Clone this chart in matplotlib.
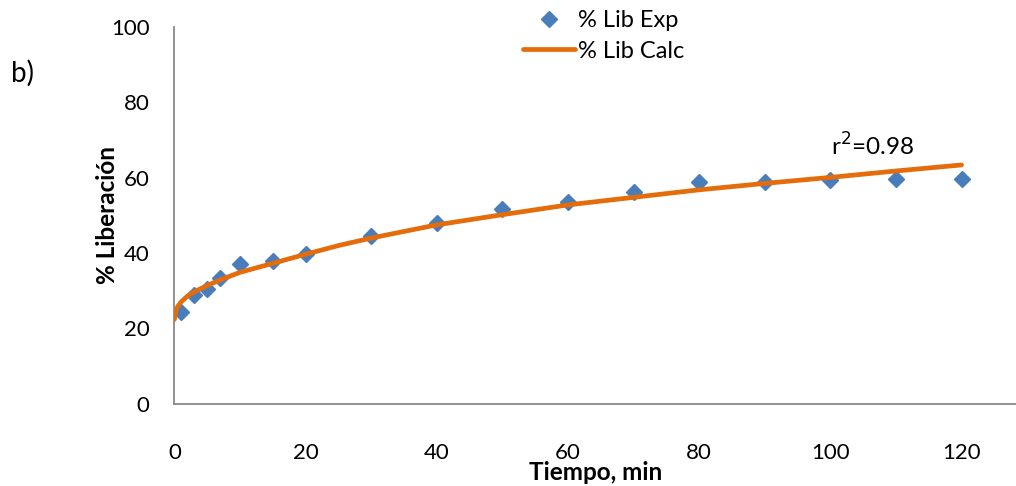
import matplotlib
matplotlib.use("Agg")
import matplotlib.pyplot as plt

# Experimental data
t_exp = [1, 3, 5, 7, 10, 15, 20, 30, 40, 50, 60, 70, 80, 90, 100, 110, 120]
lib_exp = [24.5, 28.9, 30.4, 33.5, 37.0, 38.0, 39.8, 44.6, 48.1, 51.8, 53.7, 56.3, 58.8, 58.9, 59.4, 59.8, 59.8]

# Calculated (fitted) curve
t_calc = [0, 0.25, 0.5, 1, 2, 3, 5, 7, 10, 15, 20, 25, 30, 40, 50, 60, 70, 80, 90, 100, 110, 120]
lib_calc = [22.4, 24.8, 25.8, 27.0, 28.6, 29.7, 31.4, 32.9, 34.9, 37.3, 39.7, 42.0, 44.0, 47.5, 50.2, 52.8, 54.8, 56.8, 58.5, 60.1, 61.8, 63.4]

x_ticks = [0, 20, 40, 60, 80, 100, 120]
y_ticks = [0, 20, 40, 60, 80, 100]

plt.rcParams['font.family'] = ['Lato', 'DejaVu Sans']

fig = plt.figure(figsize=(10.16, 4.86), dpi=100)
ax = fig.add_axes([0.1716, 0.169, 1.0 - 0.1716, 0.9444 - 0.169])

ax.plot(t_exp, lib_exp, linestyle='none', marker='D', markersize=8,
        color='#4A7EBB', label='% Lib Exp', zorder=2)
ax.plot(t_calc, lib_calc, color='#E46C0A', linewidth=3.4,
        solid_capstyle='round', solid_joinstyle='round', label='% Lib Calc', zorder=3)

ax.set_xlim(0, 128.3)
ax.set_ylim(0, 100)
ax.set_xticks(x_ticks)
ax.set_yticks(y_ticks)
ax.tick_params(axis='both', length=0, labelsize=16)
ax.tick_params(axis='y', pad=18)
ax.tick_params(axis='x', pad=28)

for s in ['top', 'right']:
    ax.spines[s].set_visible(False)
for s in ['left', 'bottom']:
    ax.spines[s].set_color('#898989')
    ax.spines[s].set_linewidth(1.3)

ax.set_xlabel('Tiempo, min', fontsize=17.5, fontweight='bold', labelpad=-1)
ax.set_ylabel('% Liberación', fontsize=17.5, fontweight='bold', labelpad=-6)

ax.text(106.5, 64.8, 'r$^2$=0.98', fontsize=17.5, ha='center', va='bottom')
fig.text(0.022, 0.85, 'b)', fontsize=20, ha='center', va='center')

leg = ax.legend(loc='upper center', bbox_to_anchor=(0.51, 1.07), frameon=False,
                fontsize=17, handlelength=2.2, handletextpad=0.12, labelspacing=0.4,
                borderaxespad=0)

fig.savefig('out.png', dpi=100)
